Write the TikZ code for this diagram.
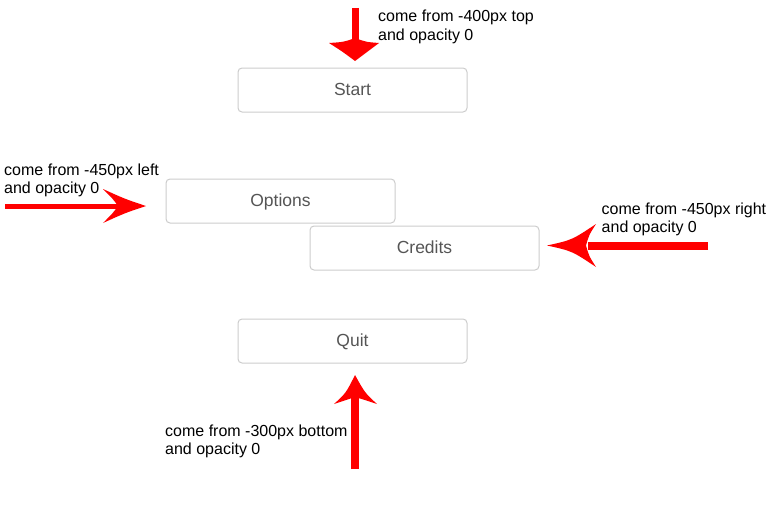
\documentclass[tikz,border=0pt]{standalone}
\usepackage{fontspec}
\setmainfont{Liberation Sans}
\definecolor{btnborder}{HTML}{CCCCCC}
\definecolor{btntext}{HTML}{555555}
\begin{document}
\begin{tikzpicture}[x=1pt,y=-1pt,
  btn/.style={draw=btnborder, line width=1pt, rounded corners=4pt, minimum width=229pt, minimum height=44pt, inner sep=0pt, text=btntext, font=\fontsize{17.5}{20}\selectfont, text height=12.5pt, text depth=2.5pt},
  note/.style={anchor=north west, inner sep=0pt, align=left, font=\fontsize{16}{18.5}\selectfont},
  shaft/.style={draw=red, line width=#1},
  head/.style={fill=red, draw=none}]
\useasboundingbox (0,0) rectangle (778,519);
% buttons
\node[btn] (start) at (352.5,90) {Start};
\node[btn] (options) at (280.5,201) {Options};
\node[btn] (credits) at (424.5,248) {Credits};
\node[btn] (quit) at (352.5,341) {Quit};
% notes
\node[note] (ntop) at (378,10) {come from -400px top\\and opacity 0};
\node[note] (nleft) at (4,163.5) {come from -450px left\\and opacity 0};
\node[note] (nright) at (601.5,202.5) {come from -450px right\\and opacity 0};
\node[note] (nbottom) at (165,424.5) {come from -300px bottom\\and opacity 0};
% top arrow
\coordinate (ts) at (355,8);
\coordinate (tj) at (355,41);
\coordinate (tt) at (355,61);
\draw[shaft=7pt] (ts) -- (tj);
\path[head] (tt) .. controls (343,52) .. (329,43) .. controls (344,42) .. (355,38) .. controls (366,42) .. (379,43) .. controls (367,52) .. (tt) -- cycle;
% left arrow
\coordinate (ls) at (5,206);
\coordinate (lj) at (120,206);
\coordinate (lt) at (146,206);
\draw[shaft=5pt] (ls) -- (lj);
\path[head] (lt) .. controls (125,199) .. (103,189) .. controls (113,199) .. (118,206) .. controls (113,213) .. (103,223) .. controls (125,213) .. (lt) -- cycle;
% right arrow
\coordinate (rs) at (708,245.5);
\coordinate (rj) at (588,245.5);
\coordinate (rt) at (547,245.5);
\draw[shaft=8pt] (rs) -- (rj);
\path[head] (rt) .. controls (572,240) .. (596,224) .. controls (589,235) .. (586,245.5) .. controls (589,256) .. (596,267) .. controls (572,251) .. (rt) -- cycle;
% bottom arrow
\coordinate (bs) at (355,469);
\coordinate (bj) at (355,397);
\coordinate (bt) at (355,375);
\draw[shaft=8pt] (bs) -- (bj);
\path[head] (bt) .. controls (346,393) .. (334,404) .. controls (346,400) .. (355,397) .. controls (365,400) .. (377,404) .. controls (365,393) .. (bt) -- cycle;
\end{tikzpicture}
\end{document}
